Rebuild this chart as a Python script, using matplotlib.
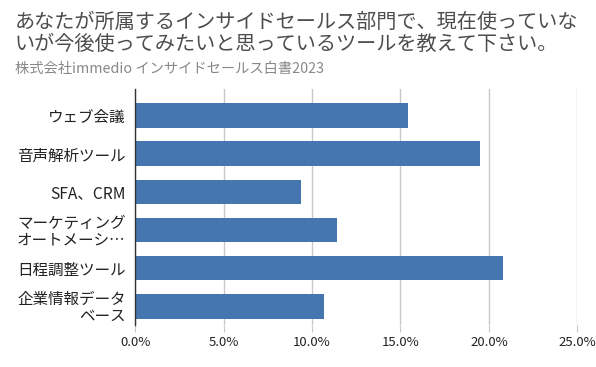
import matplotlib
matplotlib.use("Agg")
import matplotlib.pyplot as plt

plt.rcParams['font.family'] = ['Noto Sans CJK JP', 'DejaVu Sans']

categories = ["ウェブ会議", "音声解析ツール", "SFA、CRM", "マーケティング\nオートメーシ…", "日程調整ツール", "企業情報データ\nベース"]
values = [15.4, 19.5, 9.35, 11.4, 20.8, 10.65]
xticks = [0, 5, 10, 15, 20, 25]
xtick_labels = ["0.0%", "5.0%", "10.0%", "15.0%", "20.0%", "25.0%"]
title = "あなたが所属するインサイドセールス部門で、現在使っていな\nいが今後使ってみたいと思っているツールを教えて下さい。"
subtitle = "株式会社immedio インサイドセールス白書2023"

fig = plt.figure(figsize=(5.96, 3.67), dpi=100)
ax = fig.add_axes([0.227, 0.1144, 0.7416, 0.6423])

ypos = list(range(len(categories)))
ax.barh(ypos, values, height=0.645, color="#4676b0", zorder=3)
ax.set_ylim(5.49, -0.69)
ax.set_xlim(0, 25)
ax.set_xticks(xticks)
ax.set_xticklabels(xtick_labels, fontsize=9.5, color="#222222")
ax.set_yticks(ypos)
ax.set_yticklabels(categories, fontsize=11.2, color="#222222", linespacing=0.95)
for lbl in ax.get_yticklabels():
    lbl.set_y(lbl.get_position()[1])
ax.tick_params(axis='y', length=0, pad=7)
ax.tick_params(axis='x', length=5, color="#c8c8c8", pad=3)
ax.xaxis.grid(True, color="#c8c8c8", linewidth=1, zorder=0)
for s in ["top", "right", "bottom"]:
    ax.spines[s].set_visible(False)
ax.spines["left"].set_color("#333333")
ax.spines["left"].set_linewidth(1)
ax.spines["left"].set_zorder(4)

fig.text(15/596, 1 - 12/367, title, fontsize=14.5, color="#4d4d4d", va="top", ha="left", linespacing=1.05)
fig.text(15/596, 1 - 62/367, subtitle, fontsize=10.3, color="#888888", va="top", ha="left")

fig.savefig("out.png", dpi=100)
